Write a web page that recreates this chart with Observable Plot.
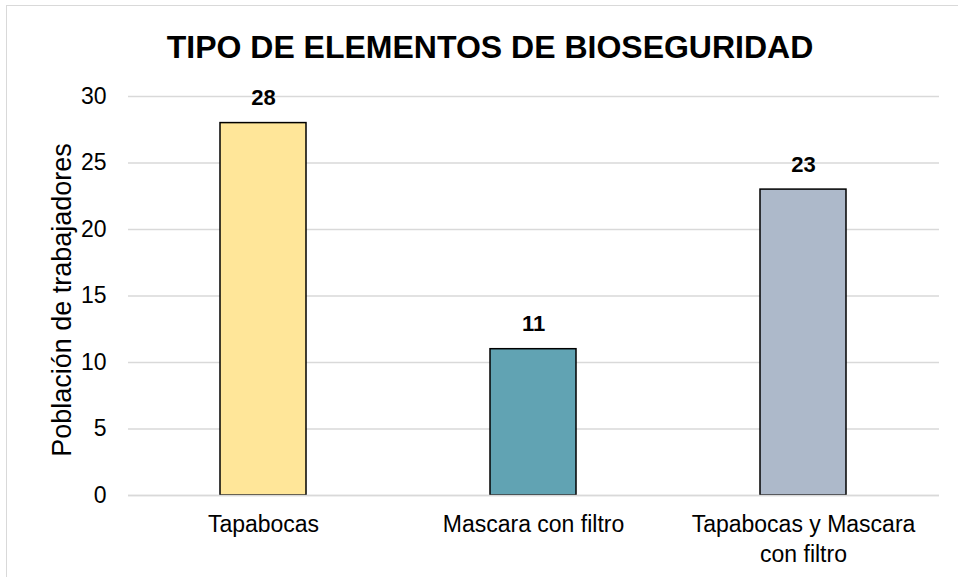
<!DOCTYPE html>
<html>
<head>
<meta charset="utf-8">
<script src="https://cdn.jsdelivr.net/npm/d3@7"></script>
<script src="https://cdn.jsdelivr.net/npm/@observablehq/plot@0.6"></script>
<style>
  html, body { margin: 0; padding: 0; background: #fff; }
  body { width: 958px; height: 577px; position: relative; overflow: hidden; font-family: "Liberation Sans", Arial, sans-serif; }
  #frame { position: absolute; left: 6px; top: 5px; width: 960px; height: 580px; border-left: 1.5px solid #d9d9d9; border-top: 1.5px solid #d9d9d9; pointer-events: none; }
  #title { position: absolute; left: 0; top: 0; width: 958px; height: 70px; text-align: center; font-weight: bold; font-size: 32px; line-height: 94px; color: #000; padding-left: 22px; box-sizing: border-box; white-space: nowrap; }
  #chart { position: absolute; left: 0; top: 70px; }
</style>
</head>
<body>
<div id="frame"></div>
<div id="title">TIPO DE ELEMENTOS DE BIOSEGURIDAD</div>
<div id="chart"></div>
<script>
const categories = ["Tapabocas", "Mascara con filtro", "Tapabocas y Mascara con filtro"];
const values = [28, 11, 23];
const tickLabels = ["Tapabocas", "Mascara con filtro", "Tapabocas y Mascara\ncon filtro"];
const colors = ["#FFE699", "#61A3B3", "#ADB9CA"];
const yTicks = [0, 5, 10, 15, 20, 25, 30];

const data = categories.map((c, i) => ({category: c, value: values[i], color: colors[i]}));
const labelOf = new Map(categories.map((c, i) => [c, tickLabels[i]]));

const chart = Plot.plot({
  width: 958,
  height: 507,
  marginTop: 26,
  marginBottom: 82,
  marginLeft: 128,
  marginRight: 19,
  style: {fontFamily: "Liberation Sans, Arial, sans-serif", fontSize: "23px", color: "#000", background: "transparent", overflow: "visible"},
  x: {domain: categories, paddingInner: 0.68, paddingOuter: 0.34, label: null},
  y: {domain: [0, 30], label: null},
  marks: [
    Plot.gridY(yTicks, {stroke: "#d9d9d9", strokeOpacity: 1, strokeWidth: 1.5}),
    Plot.axisY(yTicks, {tickSize: 0, tickPadding: 22, fontSize: 23, label: null}),
    Plot.text(["Población de trabajadores"], {frameAnchor: "left", textAnchor: "middle", dx: -66, dy: 4, rotate: -90, fontSize: 27, text: d => d}),
    Plot.barY(data, {x: "category", y: "value", fill: "color", stroke: "#000", strokeWidth: 1.5}),
    Plot.ruleY([0], {stroke: "#d9d9d9", strokeWidth: 1.5}),
    Plot.text(data, {x: "category", y: "value", text: d => String(d.value), dy: -25, fontWeight: "bold", fontSize: 22}),
    Plot.axisX({tickSize: 0, tickPadding: 15, fontSize: 23, tickFormat: d => labelOf.get(d), lineHeight: 1.3, label: null})
  ]
});
document.getElementById("chart").appendChild(chart);
</script>
</body>
</html>
